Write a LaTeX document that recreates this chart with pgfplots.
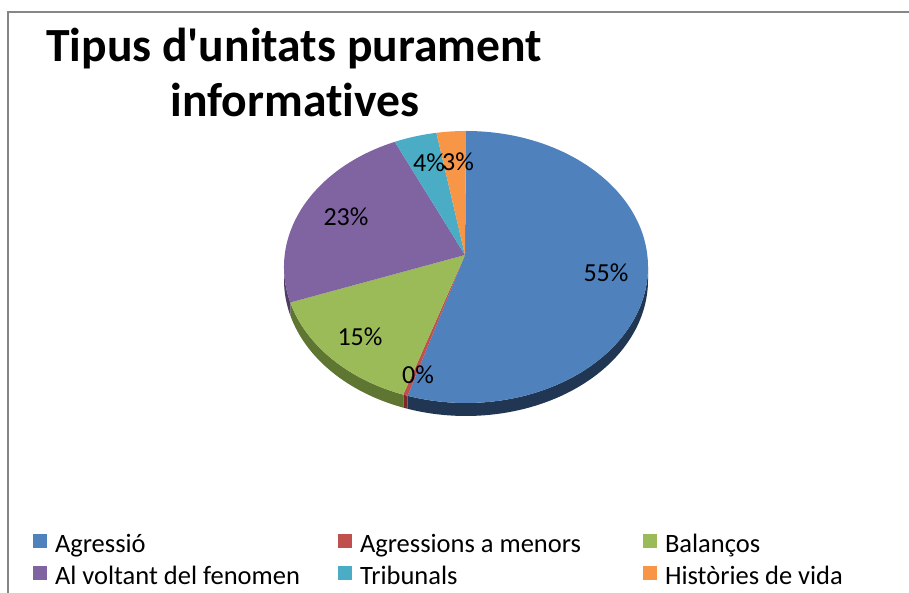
\documentclass[border=0pt]{standalone}
\usepackage{pgfplots}
\pgfplotsset{compat=1.18}
\usepackage{pgfplotstable}
\usepackage{fontspec}
\setmainfont{Carlito}[Ligatures={CommonOff}]
\newfontfamily\titlefont{Carlito}[Ligatures={TeXOff,CommonOff}]
\definecolor{cA}{HTML}{4F81BD}
\definecolor{cB}{HTML}{C0504D}
\definecolor{cC}{HTML}{9BBB59}
\definecolor{cD}{HTML}{8064A2}
\definecolor{cE}{HTML}{4BACC6}
\definecolor{cF}{HTML}{F79646}
\definecolor{sA}{HTML}{213653}
\definecolor{sB}{HTML}{7A2B29}
\definecolor{sC}{HTML}{5F7532}
\definecolor{sD}{HTML}{4F3D65}
\definecolor{frame}{HTML}{868686}

\pgfplotstableread{
value
55.2
0.4
15.2
22.8
3.8
2.6
}\piedata

\newcommand\slice[3]{\fill[#3] (axis cs:465,338) -- ({466+182*cos(#1)},{326+136*sin(#1)}) arc[start angle=#1, end angle=#2, x radius=182pt, y radius=136pt] -- cycle;}
\newcommand\side[3]{\fill[#3] ({466+182*cos(#1)},{326+136*sin(#1)}) arc[start angle=#1, end angle=#2, x radius=182pt, y radius=136pt] -- ++(0pt,-13pt) arc[start angle=#2, end angle=#1, x radius=182pt, y radius=136pt] -- cycle;}

\begin{document}%
\begin{tikzpicture}
\pgfplotstablegetelem{0}{value}\of\piedata \pgfmathsetmacro\vA{\pgfplotsretval}
\pgfplotstablegetelem{1}{value}\of\piedata \pgfmathsetmacro\vB{\pgfplotsretval}
\pgfplotstablegetelem{2}{value}\of\piedata \pgfmathsetmacro\vC{\pgfplotsretval}
\pgfplotstablegetelem{3}{value}\of\piedata \pgfmathsetmacro\vD{\pgfplotsretval}
\pgfplotstablegetelem{4}{value}\of\piedata \pgfmathsetmacro\vE{\pgfplotsretval}
\pgfplotstablegetelem{5}{value}\of\piedata \pgfmathsetmacro\vF{\pgfplotsretval}
\pgfmathsetmacro\aA{90}
\pgfmathsetmacro\aB{\aA-3.6*\vA}
\pgfmathsetmacro\aC{\aB-3.6*\vB}
\pgfmathsetmacro\aD{\aC-3.6*\vC}
\pgfmathsetmacro\aE{\aD-3.6*\vD}
\pgfmathsetmacro\aF{\aE-3.6*\vE}
\pgfmathsetmacro\aG{\aF-3.6*\vF}
\begin{axis}[name=ax, at={(0,0)}, anchor=south west,
  x=1pt, y=1pt, xmin=0, xmax=909, ymin=0, ymax=593,
  hide axis, clip=true,
  legend columns=3, legend cell align=left,
  legend image code/.code={\fill[#1, draw=none] (0pt,-7pt) rectangle (14pt,7pt);},
  legend style={draw=none, fill=none, inner sep=0pt, outer sep=0pt,
    at={(axis cs:33,64)}, anchor=north west,
    font=\fontsize{26.5}{30}\selectfont,
    row sep=7pt,
    nodes={inner sep=0pt, text height=24pt, text depth=1pt},
    /tikz/every odd column/.append style={column sep=8pt},
    /tikz/every even column/.append style={column sep=0pt}},
]
% frame
\draw[frame, line width=2pt] (8,-20) -- (8,581) -- (950,581);
% sides
\side{0}{\aB}{sA}
\side{\aB}{\aC}{sB}
\side{\aC}{\aD}{sC}
\side{\aD}{-180}{sD}
% top faces
\slice{\aA}{\aB}{cA}
\slice{\aB}{\aC}{cB}
\slice{\aC}{\aD}{cC}
\slice{\aD}{\aE}{cD}
\slice{\aE}{\aF}{cE}
\slice{\aF}{\aG}{cF}
% data labels
\begin{scope}[every node/.style={font=\fontsize{26}{30}\selectfont, inner sep=0pt}]
\node at (606,320) {55\%};
\node at (418,218) {0\%};
\node at (360,256) {15\%};
\node at (346,376) {23\%};
\node at (429,430) {4\%};
\node at (458,431) {3\%};
\end{scope}
% title
\node[anchor=base, font=\titlefont\fontsize{47.6}{55}\selectfont\bfseries, inner sep=0pt] at (294,531) {Tipus d'unitats purament};
\node[anchor=base, font=\titlefont\fontsize{47.6}{55}\selectfont\bfseries, inner sep=0pt] at (295,476) {informatives};
% legend
\addlegendimage{fill=cA}\addlegendentry{\makebox[283pt][l]{Agressió}}
\addlegendimage{fill=cB}\addlegendentry{\makebox[283pt][l]{Agressions a menors}}
\addlegendimage{fill=cC}\addlegendentry{Balanços}
\addlegendimage{fill=cD}\addlegendentry{\makebox[283pt][l]{Al voltant del fenomen}}
\addlegendimage{fill=cE}\addlegendentry{\makebox[283pt][l]{Tribunals}}
\addlegendimage{fill=cF}\addlegendentry{Històries de vida}
\end{axis}
\pgfresetboundingbox
\path[use as bounding box] (ax.south west) rectangle (ax.north east);
\end{tikzpicture}%
\end{document}
